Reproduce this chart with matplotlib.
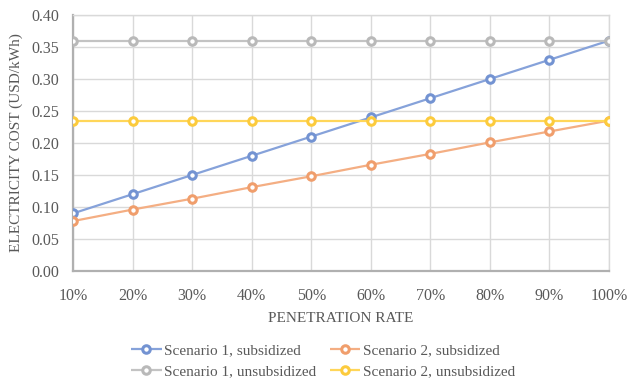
import matplotlib
matplotlib.use("Agg")
import matplotlib.pyplot as plt
from matplotlib.ticker import FuncFormatter, MultipleLocator

plt.rcParams['font.family'] = ['Liberation Serif', 'DejaVu Serif']

penetration = [10, 20, 30, 40, 50, 60, 70, 80, 90, 100]
x_labels = [f"{p}%" for p in penetration]

s1_subsidized = [0.09, 0.12, 0.15, 0.18, 0.21, 0.24, 0.27, 0.30, 0.33, 0.36]
s2_subsidized = [0.078, 0.096, 0.113, 0.131, 0.148, 0.166, 0.183, 0.201, 0.218, 0.235]
s1_unsubsidized = [0.36] * 10
s2_unsubsidized = [0.235] * 10

series = [
    ("Scenario 1, subsidized", s1_subsidized, "#86a2da", "#7393d2"),
    ("Scenario 2, subsidized", s2_subsidized, "#f4ae83", "#f09e6c"),
    ("Scenario 1, unsubsidized", s1_unsubsidized, "#c3c3c3", "#b9b9b9"),
    ("Scenario 2, unsubsidized", s2_unsubsidized, "#ffd659", "#fccb3d"),
]

fig = plt.figure(figsize=(6.27, 3.83), dpi=100)
ax = fig.add_axes([0.1164, 0.2924, 0.8549, 0.6684])

xs = list(range(len(penetration)))
handles = {}
for i, (name, vals, col, edge) in enumerate(series):
    h, = ax.plot(xs, vals, color=col, lw=1.6, marker='o', markersize=5.4,
                 markerfacecolor='white', markeredgecolor=edge,
                 markeredgewidth=2.2, zorder=3 + i, label=name,
                 solid_capstyle='butt')
    handles[name] = h

ax.set_xlim(0, len(penetration) - 1)
ax.set_ylim(0, 0.40)
ax.set_xticks(xs)
ax.set_xticklabels(x_labels)
ax.yaxis.set_major_locator(MultipleLocator(0.05))
ax.yaxis.set_major_formatter(FuncFormatter(lambda v, p: f"{v:.2f}"))

txt = "#595959"
ax.tick_params(axis='both', length=0, labelsize=11.5, colors=txt)
ax.tick_params(axis='x', pad=12)
ax.tick_params(axis='y', pad=10)

ax.grid(True, color="#d9d9d9", lw=1.0, zorder=0)
ax.set_axisbelow(True)
for s in ['top', 'right']:
    ax.spines[s].set_color("#d9d9d9")
    ax.spines[s].set_linewidth(1.0)
for s in ['left', 'bottom']:
    ax.spines[s].set_color("#b0b0b0")
    ax.spines[s].set_linewidth(1.6)

ax.set_xlabel("PENETRATION RATE", fontsize=11, color=txt, labelpad=6)
ax.set_ylabel("ELECTRICITY COST (USD/kWh)", fontsize=11, color=txt, labelpad=6)

order = ["Scenario 1, subsidized", "Scenario 1, unsubsidized",
         "Scenario 2, subsidized", "Scenario 2, unsubsidized"]
leg = fig.legend([handles[n] for n in order], order, ncol=2,
                 loc='center', bbox_to_anchor=(0.515, 0.058), frameon=False,
                 fontsize=11, handlelength=2.0, handletextpad=0.15,
                 columnspacing=0.9, labelspacing=0.45)
for t in leg.get_texts():
    t.set_color(txt)

fig.savefig("out.png", dpi=100)
